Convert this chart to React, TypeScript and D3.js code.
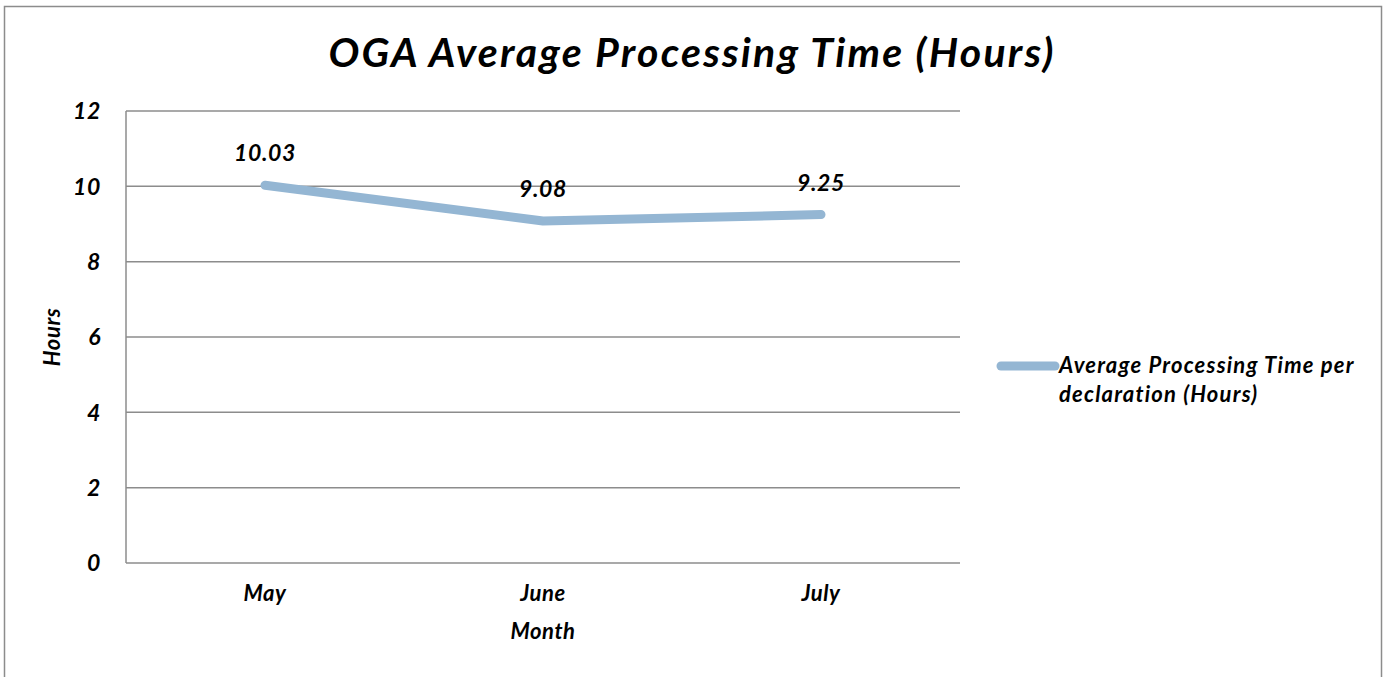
import * as d3 from 'd3';
import React from 'react';

const months = ['May', 'June', 'July'];
const avgHours = [10.03, 9.08, 9.25];
const yTicks = [0, 2, 4, 6, 8, 10, 12];
const seriesName = ['Average Processing Time per', 'declaration (Hours)'];

const W = 1389;
const H = 677;
const FONT = "Lato, 'Open Sans', sans-serif";

const App: React.FC = () => {
  const left = 126, right = 960, top = 111, bottom = 563;

  const x = d3.scaleBand<string>().domain(months).range([left, right]);
  const y = d3.scaleLinear().domain([0, 12]).range([bottom, top]);
  const cx = (m: string) => (x(m) as number) + x.bandwidth() / 2;

  const line = d3
    .line<number>()
    .x((d, i) => cx(months[i]))
    .y((d) => y(d));

  const lineColor = '#94b6d3';
  const gridColor = '#8c8c8c';
  const lbl = { fontSize: 22, fontWeight: 'bold', fontStyle: 'italic', letterSpacing: 0.6 } as const;

  return (
    <svg width={W} height={H} style={{ position: 'absolute', left: 0, top: 0 }} fontFamily={FONT}>
      <rect x={0} y={0} width={W} height={H} fill="#fff" />
      <rect x={4.5} y={6.5} width={1377} height={675} fill="none" stroke="#8c8c8c" strokeWidth={1.5} />

      <text x={692} y={67} textAnchor="middle" fontSize={41} fontWeight="bold" fontStyle="italic" letterSpacing={2.2} fill="#000">
        OGA Average Processing Time (Hours)
      </text>

      {yTicks.map((t) => (
        <g key={t}>
          {t > 0 && <line x1={left} x2={right} y1={y(t)} y2={y(t)} stroke={gridColor} strokeWidth={1.5} />}
          <text x={101} y={y(t)} dy="0.36em" textAnchor="end" {...lbl} fontSize={23}>
            {t}
          </text>
        </g>
      ))}
      <line x1={left} x2={left} y1={top} y2={bottom} stroke={gridColor} strokeWidth={1.5} />
      <line x1={left} x2={right} y1={bottom} y2={bottom} stroke={gridColor} strokeWidth={1.5} />

      {months.map((m) => (
        <text key={m} x={cx(m)} y={601} textAnchor="middle" {...lbl}>
          {m}
        </text>
      ))}
      <text x={543} y={639} textAnchor="middle" {...lbl}>
        Month
      </text>
      <text transform={`translate(60,${(top + bottom) / 2}) rotate(-90)`} textAnchor="middle" {...lbl}>
        Hours
      </text>

      <path
        d={line(avgHours) || ''}
        fill="none"
        stroke={lineColor}
        strokeWidth={9}
        strokeLinecap="round"
        strokeLinejoin="round"
      />
      {avgHours.map((v, i) => (
        <text key={i} x={cx(months[i])} y={y(v) - 24} textAnchor="middle" {...lbl} fontSize={23}>
          {v.toFixed(2)}
        </text>
      ))}

      <line x1={1001} x2={1055} y1={366} y2={366} stroke={lineColor} strokeWidth={9} strokeLinecap="round" />
      {seriesName.map((s, i) => (
        <text key={i} x={1059} y={373 + i * 29} {...lbl} letterSpacing={1.2}>
          {s}
        </text>
      ))}
    </svg>
  );
};

export default App;
